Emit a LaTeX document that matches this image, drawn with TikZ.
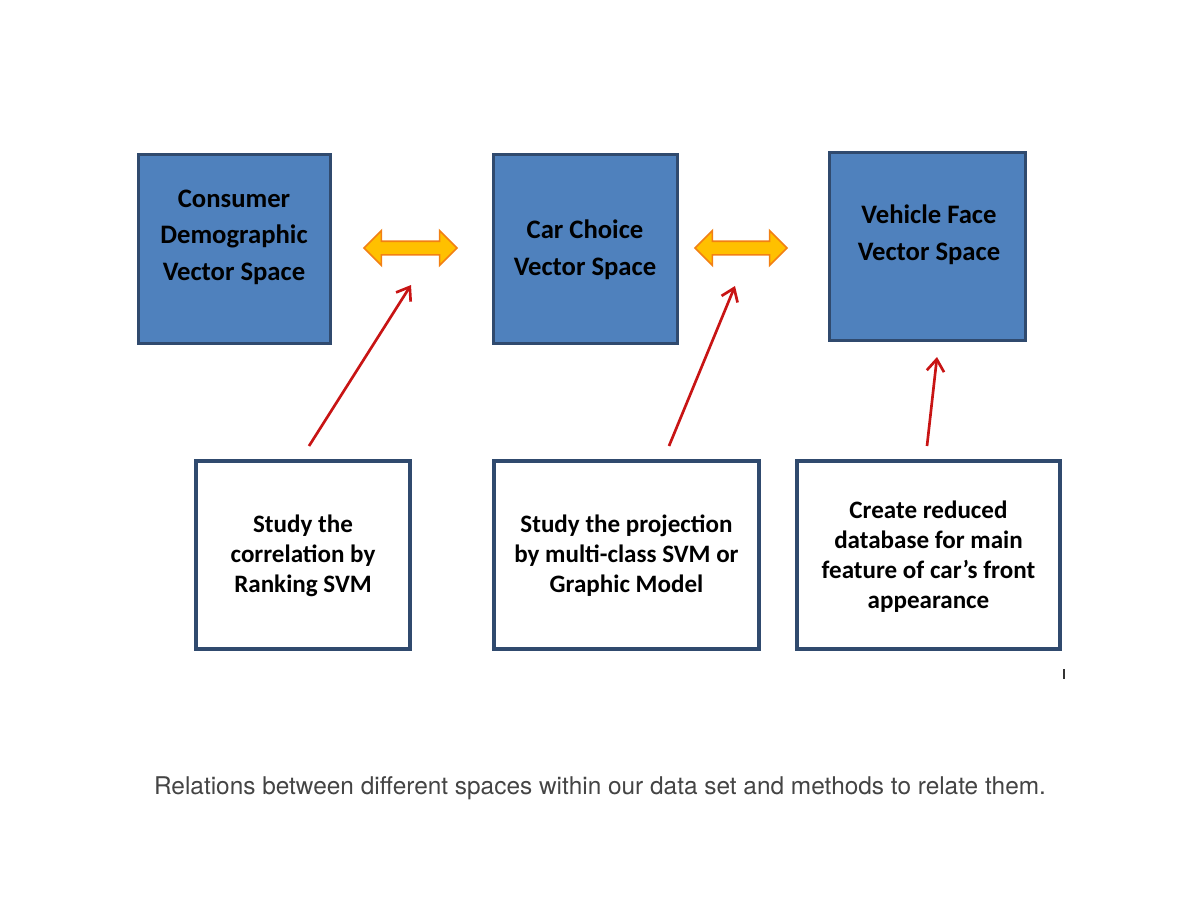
\documentclass[tikz,border=0pt]{standalone}
\usepackage{fontspec}
\setmainfont{Carlito}
\newfontfamily\captionfont{TeX Gyre Heros}
\usetikzlibrary{shapes.arrows,arrows.meta}

\definecolor{boxblue}{RGB}{79,129,189}
\definecolor{boxline}{RGB}{48,74,110}
\definecolor{arrowfill}{RGB}{255,192,0}
\definecolor{arroworange}{RGB}{242,128,20}
\definecolor{linkred}{RGB}{200,20,20}
\definecolor{captiongray}{RGB}{68,68,68}

\begin{document}
\begin{tikzpicture}[x=0.75pt,y=0.75pt,yscale=-1,xscale=1,
  spacebox/.style={draw=boxline,line width=2.25pt,fill=boxblue,inner sep=0pt},
  methodbox/.style={draw=boxline,line width=3pt,fill=white,inner sep=0pt},
  spacetext/.style={font=\bfseries\fontsize{20}{27.4}\selectfont,align=center,inner sep=0.75pt},
  methodtext/.style={font=\bfseries\fontsize{18.8}{22.5}\selectfont,align=center,inner sep=0.75pt},
  pairarrow/.style={double arrow,double arrow head extend=7.9pt,minimum width=24.75pt,
    fill=arrowfill,draw=arroworange,line width=1.2pt,inner xsep=0pt,inner ysep=4.5pt},
  link/.style={draw=linkred,line width=2pt,-{Straight Barb[length=9pt,width=13pt,line width=2pt]}}]
\useasboundingbox (0,0) rectangle (1200,900);
\fill[white] (0,0) rectangle (1200,900);

%Shape: Rectangle
\node[spacebox,minimum width=144pt,minimum height=141.75pt] (consumer) at (234.5,249) {};
%Shape: Rectangle
\node[spacebox,minimum width=138pt,minimum height=141.75pt] (choice) at (585.5,249) {};
%Shape: Rectangle
\node[spacebox,minimum width=147pt,minimum height=141pt] (face) at (927.5,246.5) {};

%Shape: Rectangle
\node[methodbox,minimum width=160.5pt,minimum height=141pt] (ranking) at (303,555) {};
%Shape: Rectangle
\node[methodbox,minimum width=198.75pt,minimum height=141pt] (projection) at (626.5,555) {};
%Shape: Rectangle
\node[methodbox,minimum width=197.25pt,minimum height=141pt] (reduced) at (928.5,555) {};

%Double Arrows
\node[pairarrow,minimum height=69.75pt] (pairA) at (410.5,248) {};
\node[pairarrow,minimum height=69pt] (pairB) at (741,248) {};

%Straight Lines
\coordinate (fromA) at (309,446);
\coordinate (toA) at (411,285);
\draw[link] (fromA) -- (toA);
%Straight Lines
\coordinate (fromB) at (669,446);
\coordinate (toB) at (735,286);
\draw[link] (fromB) -- (toB);
%Straight Lines
\coordinate (fromC) at (927,446);
\coordinate (toC) at (937,357);
\draw[link] (fromC) -- (toC);

%Straight Lines
\draw[line width=1.5pt,black!80] (1064,669) -- (1064,679);

% Text Node
\node[spacetext] (consumertext) at (234,237) {Consumer\\Demographic\\Vector Space};
% Text Node
\node[spacetext] (choicetext) at (585,250) {Car Choice\\Vector Space};
% Text Node
\node[spacetext] (facetext) at (929,235) {Vehicle Face\\Vector Space};
% Text Node
\node[methodtext] (rankingtext) at (303,556) {Study the\\correlation by\\Ranking SVM};
% Text Node
\node[methodtext] (projectiontext) at (626.5,556) {Study the projection\\by multi-class SVM or\\Graphic Model};
% Text Node
\node[methodtext] (reducedtext) at (928.5,557) {Create reduced\\database for main\\feature of car’s front\\appearance};
% Text Node
\node[font=\captionfont\fontsize{18.3}{21}\selectfont,text=captiongray,inner sep=0.75pt] (caption) at (600,788) {Relations between different spaces within our data set and methods to relate them.};

\end{tikzpicture}
\end{document}
